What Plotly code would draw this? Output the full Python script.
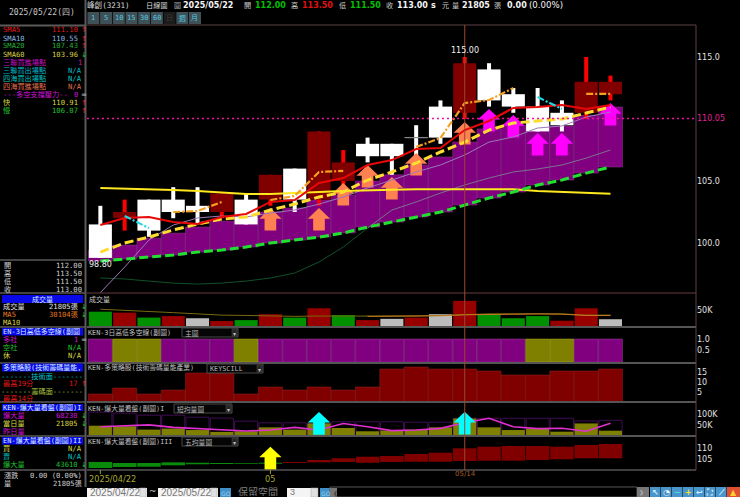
import plotly.graph_objects as go

# ---------- data ----------
bars = list(range(22))
opens  = [101.5,102,103.5,103.5,103,102.5,103.5,103.5,106,103.5,105,108,108,108.5,111,110.5,114,112,111,110.5,110.5,112]
closes = [98.8,102.5,101,102.5,102.5,104,101.5,105.5,103.5,109,106.5,107,107,108.5,108.5,114.5,111.5,111,109,109.5,113,113]
highs  = [103,103.5,103.5,104.5,104.5,104,104,105.5,106,109,107.5,108.5,108,109.5,111.5,115,114.5,112.5,112.5,111.5,115,113.5]
lows   = [98.8,101,100.5,102,101.5,102,101.5,103,102.5,103,104,106.5,105.5,107,108,110,111,110.5,109,109,110,111.5]

sma5  = [101.45,102.02,102.1,101.69,101.53,102.1,102.34,103.31,103.47,104.84,105.24,106.29,106.69,107.58,107.66,109.11,109.84,110.89,110.97,111.13,110.81,111.13]
sma10 = [96.0,98.06,100.24,101.45,102.02,102.18,102.1,102.42,102.66,103.14,103.71,104.44,105.08,105.73,106.29,107.1,108.14,108.55,109.27,109.44,110.16,110.56]
sma20 = [97.18,97.1,96.93,96.77,96.69,96.77,96.93,97.18,97.58,98.47,99.68,101.21,102.66,103.31,104.03,104.68,105.24,105.73,105.97,106.29,106.85,107.5]
sma60 = [104.44,104.4,104.35,104.27,104.19,104.07,103.95,103.95,104.06,104.11,104.19,104.27,104.3,104.33,104.33,104.33,104.33,104.33,104.19,104.14,104.06,103.98]
fast  = [99.27,100.0,100.48,101.05,101.53,101.93,102.1,102.66,103.14,103.71,104.11,105.08,105.73,106.45,107.34,108.14,109.11,109.68,109.84,110.0,110.48,110.97]
slow  = [98.55,98.71,98.87,99.03,99.27,99.43,99.68,100.0,100.24,100.48,100.81,101.29,101.69,102.1,102.5,103.06,103.63,104.11,104.68,105.08,105.64,106.13]
band_top = [99.4,99.84,100.4,100.8,101.29,101.77,102.0,102.5,102.82,103.47,103.87,105.0,105.5,106.3,106.94,108.15,109.2,109.5,109.5,109.44,110.3,110.97]
orange_seg = [None,None,None,102.5,102.58,103.31,None,103.47,103.79,105.73,105.81,None,None,107.74,108.47,111.29,111.53,112.5,None,None,112.02,112.02]
cyan_seg   = [None,102.18,101.21,None,None,None,None,None,None,None,None,None,None,None,None,None,None,None,111.77,110.81,None,None]

orange_arrow_bars = [7,9,10,11,12,13,15]
orange_arrow_tips = [102.82,102.82,104.84,106.29,105.32,107.26,109.76]
magenta_arrow_bars = [16,17,18,19,21]
magenta_arrow_tips = [110.81,110.32,108.87,108.87,111.29]

volume = [46,43,27,32,25,16,19,38,27,57,35,19,23,27,38,81,38,25,32,17,57,21.8]
vol_tone = list("grgrwrgrgrgrwrwrgggrrw")
vol_ma5 = [54,51,48,43,39,35,34,32,31,32,32,31,31,32,34,37,39,39,40,39,35,35]
vol_ma10 = [None]*11 + [31,31,32,33,36,38,38,39,38,34,34]

signal3 = [1]*22
signal_tone = list("poopppoppppppppppp" "oopp")
strategy = [4,7,4,6,14.5,14.5,4,7.5,6,7.5,6,7.5,16.5,17.5,16.5,16.5,15.5,13.5,13.5,15.5,15.5,16.5]
box_vol = [112,107,97,97,87,83,68,60,60,58,65,65,65,63,63,82,82,82,82,82,69,72]
burst_line = [41,46,50,38,33,28,20,25,38,25,57,41,22,25,33,60,82,41,32,34,19,58]
cyan_arrow_bars = [9,15]
cyan_arrow_tips = [113,114]
five_top = [103.84,103.41,103.41,103.7,103.53,103.41,103.41,103.53,103.84,104.7,105.43,106.12,106.42,107.28,107.85,109.74,110.43,110.73,110.73,110.43,111.16,111.6]
five_low = [101.25,101.68,101.8,102.41,102.85,102.97,103.1,103.1,103.41,103.7,103.84,103.53,103.84,103.97,103.97,104.27,104.4,104.4,104.7,105.0,105.43,105.43]
yellow_arrow_bars = [7]
yellow_arrow_tips = [110.43]

# ---------- page geometry ----------
W, H = 740, 497
L, R = 87, 696
panels = [(25,293),(294,327),(327,363),(363,402),(402,436),(436,470)]
y_ranges = [(95.97,117.58),(-3.2,103),(-0.04,1.52),(0,19.5),(-3.9,161),(100.39,115.04)]
y_ticks = [
    ([100,105,110.05,115],['100.0','105.0','<span style="color:#e0209a">110.05</span>','115.0']),
    ([50],['50K']), ([0.5,1.0],['0.5','1.0']), ([5,10,15],['5','10','15']),
    ([50,100],['50K','100K']), ([105,110],['105','110'])]
XR = (-0.55, 24.52)
MONO = "DejaVu Sans Mono, Noto Sans CJK TC"
SANS = "DejaVu Sans, Noto Sans CJK TC"
CJK = "Noto Sans CJK TC"

fig = go.Figure()

def arrows(ids, tips, total, head):
    xs, ys = [], []
    for i, t in zip(ids, tips):
        xs += [i, i+0.46, i+0.24, i+0.24, i-0.24, i-0.24, i-0.46, i, None]
        ys += [t, t-head, t-head, t-total, t-total, t-head, t-head, t, None]
    return xs, ys

def arrow_trace(ids, tips, total, head, color, ax):
    xs, ys = arrows(ids, tips, total, head)
    fig.add_trace(go.Scatter(x=xs, y=ys, mode='lines', fill='toself', fillcolor=color,
                             line=dict(width=0, color=color), xaxis='x'+ax, yaxis='y'+ax))

def line(y, color, width, dash='solid', ax=''):
    fig.add_trace(go.Scatter(x=bars, y=y, mode='lines', line=dict(color=color, width=width, dash=dash),
                             connectgaps=False, xaxis='x'+ax if ax else 'x', yaxis='y'+ax if ax else 'y'))

RED_D, PURPLE, OLIVE = '#800000', '#800080', '#808000'
# main panel
fig.add_trace(go.Bar(x=bars, y=[t-b for t, b in zip(band_top, slow)], base=slow, width=0.99,
                     marker=dict(color=PURPLE, line=dict(color='#8f3a8f', width=0.5)), xaxis='x', yaxis='y'))
up = [c >= o and c != o for o, c in zip(opens, closes)]
fig.add_trace(go.Bar(x=bars, y=[h-l for h, l in zip(highs, lows)], base=lows, width=0.165,
                     marker=dict(color=['#ff0000' if u else '#ffffff' for u in up], line=dict(width=0)), xaxis='x', yaxis='y'))
fig.add_trace(go.Bar(x=bars, y=[abs(c-o) for o, c in zip(opens, closes)], base=[min(o, c) for o, c in zip(opens, closes)],
                     width=0.95,
                     marker=dict(color=[RED_D if u else '#ffffff' for u in up],
                                 line=dict(color='#8a8a8a', width=[1 if o == c else 0 for o, c in zip(opens, closes)])),
                     xaxis='x', yaxis='y'))
arrow_trace(orange_arrow_bars, orange_arrow_tips, 1.81, 0.86, '#ff8050', '')
arrow_trace(magenta_arrow_bars, magenta_arrow_tips, 1.81, 0.86, '#ff00ff', '')
line(sma20[:12] + [None]*10, '#12502a', 1)
line([None]*11 + sma20[11:], '#7d7390', 1)
line(sma10, '#9a7ab8', 1)
line(sma60, '#ffe81e', 2)
line(slow, '#22e030', 3, '9px,4px')
line(fast, '#ffdc30', 3, '9px,4px')
line(sma5, '#e80808', 2)
line(orange_seg, '#f5a020', 2.2, '7px,2px,2px,2px')
line(cyan_seg, '#20d8e0', 2.2, '7px,2px,2px,2px')

# volume
tone = {'g':'#009000', 'r':'#980000', 'w':'#bdbdbd'}
fig.add_trace(go.Bar(x=bars, y=volume, width=0.95, marker=dict(color=[tone[t] for t in vol_tone], line=dict(width=0)), xaxis='x2', yaxis='y2'))
line(vol_ma5, '#7a6a10', 1, ax='2')
line(vol_ma10, '#c87a20', 1, ax='2')
# 3-day panel
fig.add_trace(go.Bar(x=bars, y=signal3, width=0.98,
                     marker=dict(color=[OLIVE if t == 'o' else PURPLE for t in signal_tone],
                                 line=dict(color=['#a8a828' if t == 'o' else '#9a4a9a' for t in signal_tone], width=0.5)),
                     xaxis='x3', yaxis='y3'))
# strategy
fig.add_trace(go.Bar(x=bars, y=strategy, width=0.99, marker=dict(color=RED_D, line=dict(color='#952525', width=0.5)), xaxis='x4', yaxis='y4'))
# burst volume
fig.add_trace(go.Bar(x=bars, y=box_vol, width=0.95, marker=dict(color='rgba(0,0,0,0)', line=dict(color='#3e0e50', width=1)), xaxis='x5', yaxis='y5'))
fig.add_trace(go.Bar(x=bars, y=volume, width=0.95, marker=dict(color=OLIVE, line=dict(width=0)), xaxis='x5', yaxis='y5'))
line(burst_line, '#e030d0', 1.6, ax='5')
arrow_trace(cyan_arrow_bars, cyan_arrow_tips, 111, 52, '#00ffff', '5')
# five-average panel
fig.add_trace(go.Bar(x=bars, y=[t-b for t, b in zip(five_top, five_low)], base=five_low, width=0.97,
                     marker=dict(color=['#0a8a0a']*8 + [RED_D]*14, line=dict(width=0)), xaxis='x6', yaxis='y6'))
arrow_trace(yellow_arrow_bars, yellow_arrow_tips, 10, 4.6, '#ffff00', '6')

# axes
layout = dict(width=W, height=H, margin=dict(l=0, r=0, t=0, b=0), autosize=False, showlegend=False,
              paper_bgcolor='#000000', plot_bgcolor='#000000', barmode='overlay', hovermode=False, dragmode=False)
for k, ((top, bot), rng, (tv, tt)) in enumerate(zip(panels, y_ranges, y_ticks), start=1):
    s = '' if k == 1 else str(k)
    layout['xaxis'+s] = dict(domain=[L/W, R/W], range=XR, visible=False, anchor='y'+s, fixedrange=True)
    layout['yaxis'+s] = dict(domain=[1-bot/H, 1-top/H], range=rng, side='right', anchor='x'+s, showgrid=False,
                             zeroline=False, showline=False, ticks='', ticklen=0, tickvals=tv, ticktext=tt,
                             tickfont=dict(family='DejaVu Sans', size=8, color='#e0e0e0'), fixedrange=True)
fig.update_layout(**layout)

# ---------- page furniture ----------
shapes, notes = [], []
def px(x): return x/W
def py(y): return 1-y/H
def rect(x0, y0, x1, y1, fill='rgba(0,0,0,0)', lc='rgba(0,0,0,0)', lw=0):
    shapes.append(dict(type='rect', xref='paper', yref='paper', x0=px(x0), x1=px(x1), y0=py(y0), y1=py(y1),
                       fillcolor=fill, line=dict(color=lc, width=lw), layer='above'))
def hline(x0, x1, y, c='#555555', w=2, dash='solid'):
    shapes.append(dict(type='line', xref='paper', yref='paper', x0=px(x0), x1=px(x1), y0=py(y), y1=py(y),
                       line=dict(color=c, width=w, dash=dash), layer='above'))
def vline(x, y0, y1, c='#555555', w=2):
    shapes.append(dict(type='line', xref='paper', yref='paper', x0=px(x), x1=px(x), y0=py(y0), y1=py(y1),
                       line=dict(color=c, width=w), layer='above'))
def text(x, y, s, color='#e0e0e0', size=7.2, family=MONO, anchor='left', bold=False, box=None):
    n = dict(xref='paper', yref='paper', x=px(x), y=py(y), text=('<b>%s</b>' % s) if bold else s,
             showarrow=False, xanchor=anchor, yanchor='middle', borderpad=0,
             font=dict(family=family, size=size, color=color))
    if box:
        n['height'] = box
    notes.append(n)

# frame and separators
for y, c, w in [(25,'#5a4242',1),(293,'#6a3c40',1),(327,'#555555',2),(363,'#555555',2),(402,'#555555',2),(436,'#555555',2),(470,'#555555',1.5)]:
    hline(L, R, y, c, w)
vline(R, 25, 470, '#5a4242', 1)
vline(85.5, 0, 487, '#5a5a5a', 2)
hline(0, 85, 25.5, '#5a5a5a', 2)
hline(0, 85, 260, '#5a5a5a', 1.5)
for y in (293, 327, 363, 402, 436, 470):
    hline(0, 85, y, '#5a5a5a', 1.5)

# crosshair, target level
shapes.append(dict(type='line', xref='x', yref='paper', x0=15, x1=15, y0=py(470), y1=py(25),
                   line=dict(color='#a0452e', width=1), layer='above'))
shapes.append(dict(type='line', xref='paper', yref='y', x0=px(L), x1=px(R), y0=110.05, y1=110.05,
                   line=dict(color='#f010a0', width=1.5, dash='2px,3px'), layer='above'))
for i in (0, 7):
    shapes.append(dict(type='line', xref='x', yref='paper', x0=i, x1=i, y0=py(470), y1=py(474),
                       line=dict(color='#9a9a30', width=1), layer='above'))

# price labels on candles
notes.append(dict(xref='x', yref='y', x=15, y=115, text='115.00', showarrow=False, yanchor='bottom', yshift=0,
                  font=dict(family='DejaVu Sans', size=8, color='#f0f0f0')))
notes.append(dict(xref='x', yref='y', x=0, y=98.8, text='98.80', showarrow=False, yanchor='top',
                  font=dict(family='DejaVu Sans', size=8, color='#f0f0f0')))

# header
text(42, 12, '2025/05/22(四)', '#c8c8c8', 8, MONO, 'center')
text(86, 5, '峰創(3231)', '#d8d8d8', 7.6, box=9)
text(145, 5, '日線圖', '#d8d8d8', 7.2, CJK, box=9)
text(173, 5, '圖', '#b0b0b0', 7, CJK, box=9)
head_items = [(182,'2025/05/22','#f4f4f4',True),(243,'開','#c8c8c8',False),(254,'112.00','#00c000',True),(290,'高','#c8c8c8',False),
              (301,'113.50','#e01010',True),(338,'低','#c8c8c8',False),(349,'111.50','#00c000',True),(385,'收','#c8c8c8',False),
              (396,'113.00','#f4f4f4',True),(430,'s','#f4f4f4',True),(441,'元','#c8c8c8',False),(451,'量','#c8c8c8',False),
              (461,'21805','#f4f4f4',True),(493,'張','#c8c8c8',False),(506,'0.00','#f4f4f4',True),(528,'(0.00%)','#f4f4f4',False)]
for x, s, c, b in head_items:
    if len(s) == 1 and s != 's':
        text(x, 5, s, c, 7.2, CJK, box=9)
    else:
        text(x, 5, s, c, 8 if b else 8.6, SANS, bold=b, box=10)

# interval buttons
for k, s in enumerate(['1','5','10','15','30','60','日','週','月']):
    x0 = 87 + 12.7*k
    rect(x0+0.4, 12, x0+12.4, 24, '#1c1c1c' if s == '日' else '#3f5056')
    text(x0+6.3, 18, s, '#3a3a3a' if s == '日' else '#52c8e0', 7, MONO, 'center')

# left legend rows
legend_rows = [
    (30,'SMA5','#e01818','111.10','#e01818','↑','#ff2020'),
    (38,'SMA10','#8ab8e0','110.55','#8ab8e0','↑','#ff2020'),
    (46,'SMA20','#20b030','107.43','#20b030','↑','#ff2020'),
    (54,'SMA60','#d8d040','103.96','#d8d040','↓','#20d020'),
    (62.5,'三聯買進場點','#c010c0','1','#c010c0','',''),
    (70.5,'三聯買出場點','#00b8c8','N/A','#00b8c8','',''),
    (78.5,'四海買出場點','#00c0c0','N/A','#00c0c0','',''),
    (86.5,'四海買進場點','#e07050','N/A','#e07050','',''),
    (94.5,'---多空支撐壓力--','#d010d8','0','#d010d8','=','#c0c0c0'),
    (102.5,'快','#d8d840','110.91','#d8d840','↑','#ff2020'),
    (110.5,'慢','#20c030','106.07','#20c030','↑','#ff2020'),
    (306,'成交量','#e0e0e0','21805張','#e0e0e0','↓','#20d020'),
    (314,'MA5','#e07820','30104張','#e07820','↓','#20d020'),
    (322,'MA10','#d8d040','','','',''),
    (339.5,'多社','#d010d8','1','#d010d8','=','#c0c0c0'),
    (347.5,'空社','#20c030','N/A','#20c030','',''),
    (355.5,'休','#d8d040','N/A','#d8d040','',''),
    (383.5,'最高19分','#e01818','17','#e01818','↑','#ff2020'),
    (398.5,'最高14分','#e01818','','','',''),
    (415.5,'爆大量','#d010d8','68230','#d010d8','↓','#20d020'),
    (423.5,'當日量','#d8d840','21805','#d8d840','↓','#20d020'),
    (431.5,'昨日量','#d010d8','','','',''),
    (448.5,'買','#d8d840','N/A','#d8d840','',''),
    (456.5,'賣','#00c0c0','N/A','#00c0c0','',''),
    (464.5,'爆大量','#20c030','43610','#20c030','↓','#20d020'),
]
for y, lab, lc, val, vc, ar, ac in legend_rows:
    text(2, y, lab, lc, box=7.4)
    if val:
        text(79 if ar else 83, y, val, vc, anchor='right', box=7.4)
    if ar:
        text(80, y, ar, ac, 7, 'DejaVu Sans', box=7.4)
text(42, 376, '-------技術面-------', '#00c8d0', anchor='center', box=7.4)
text(42, 391, '-------籌碼面-------', '#a8c040', anchor='center', box=7.4)

for y, lab, val in [(265,'開','112.00'),(273,'高','113.50'),(281,'低','111.50'),(289,'收','113.00')]:
    text(3, y, lab, '#d0d0d0', box=7.4)
    text(83, y, val, '#d0d0d0', anchor='right', box=7.4)
text(3, 475, '漲跌', '#d0d0d0', box=7.4); text(83, 475, '0.00 (0.00%)', '#d0d0d0', anchor='right', box=7.4)
text(3, 483, '量', '#d0d0d0', box=7.4);  text(83, 483, '21805張', '#d0d0d0', anchor='right', box=7.4)

# blue captions
for y0, y1, s, anc in [(295,303,'成交量','center'),(328,335.5,'EN-3日高低多空線(副圖','left'),(363.5,371.5,'多策略股(技術籌碼量能,','left'),
                       (404,411,'KEN-爆大量看盤(副圖)I','left'),(437,444.5,'EN-爆大量看盤(副圖)II','left')]:
    rect(2, y0, 83, y1, '#0808e8')
    text(42 if anc == 'center' else 2, (y0+y1)/2, s, '#d8f0ff', 7, MONO, anc, box=7.2)

# panel captions and drop-downs
text(88, 299, '成交量', '#c8c8c8', 7, box=8)
for x, y, s in [(87,332,'KEN-3日高低多空線(副圖)'),(87,367,'KEN-多策略股(技術籌碼量能產業)'),(87,408,'KEN-爆大量看盤(副圖)I'),(87,441,'KEN-爆大量看盤(副圖)III')]:
    text(x, y, s, '#c0c0c0', 6.8, box=8)
for x0, y0, x1, y1, s in [(182,328,238,337,'主圖'),(207,364,263,373,'KEYSCILL'),(174,404,232,413,'短均量圖'),(182,437,238,446,'五均量圖')]:
    rect(x0, y0, x1, y1, '#050505', '#4a4a4a', 1)
    rect(x1-6, y0+1, x1-1, y1-1, '#252525', '#505050', 0.5)
    text(x0+2, (y0+y1)/2, s, '#b8b8b8', 6.8, box=8)
    text(x1-3.5, (y0+y1)/2, '▾', '#c0c0c0', 6, 'DejaVu Sans', 'center', box=8)

# date labels
text(88, 479, '2025/04/22', '#a8a830', 8.2, 'DejaVu Sans')
text(270, 479, '05', '#a8a830', 8.2, 'DejaVu Sans', 'center')
text(465, 474, '05/14', '#a85a20', 7, 'DejaVu Sans', 'center', box=8)

# bottom controls
for x0, x1, s in [(87,147,'2025/04/22'),(158,218,'2025/05/22')]:
    rect(x0, 488, x1, 497, '#f4f4f4')
    text(x0+2, 492.5, s, '#777777', 10, 'Liberation Sans', box=8.8)
    rect(x1-7, 488, x1-1, 497, '#e0e0e0', '#aaaaaa', 0.5)
text(153, 491, '~', '#d0d0d0', 9, 'DejaVu Sans', 'center', box=10)
for x0 in (220, 320):
    rect(x0, 488, x0+11, 497, '#3f8fc8')
    text(x0+5.5, 492.5, 'GO', '#9fd4f0', 6, 'DejaVu Sans', 'center', box=8)
text(237, 491, '保留空間', '#808080', 10, CJK, box=10)
rect(287, 488, 318, 497, '#f4f4f4')
text(289, 492.5, '3', '#777777', 9, 'Liberation Sans', box=8.8)
rect(311, 488, 318, 497, '#e0e0e0', '#aaaaaa', 0.5)
rect(330, 487, 637, 497, '#000000', '#555555', 1)
rect(330, 488, 337, 497, '#777777')
text(333.5, 492.5, '《', '#000000', 6, CJK, 'center', box=8)
rect(637, 487, 649, 497, '#777777')
text(643, 492, '》', '#e0e0e0', 6, CJK, 'center', box=8)
for k, (g, c) in enumerate([('↖','#d0f0ff'),('◔','#ffffff'),('−','#40e0d0'),('+','#ffe020'),('↩','#d0f0ff'),('⛶','#d0f0ff'),('⟋','#d0f0ff')]):
    rect(650+11*k, 487, 660.5+11*k, 497, '#4a96cc')
    text(655+11*k, 492, g, c, 8, 'DejaVu Sans', 'center', bold=True, box=9)
rect(727, 487, 740, 497, '#e05030')
text(733.5, 492, '▲', '#ffd030', 8, 'DejaVu Sans', 'center', box=9)

fig.update_layout(shapes=shapes, annotations=notes)
fig.write_html("out.html", config=dict(displayModeBar=False, staticPlot=True),
               post_script="document.body.style.margin='0';document.body.style.background='#000';document.body.style.overflow='hidden';")
